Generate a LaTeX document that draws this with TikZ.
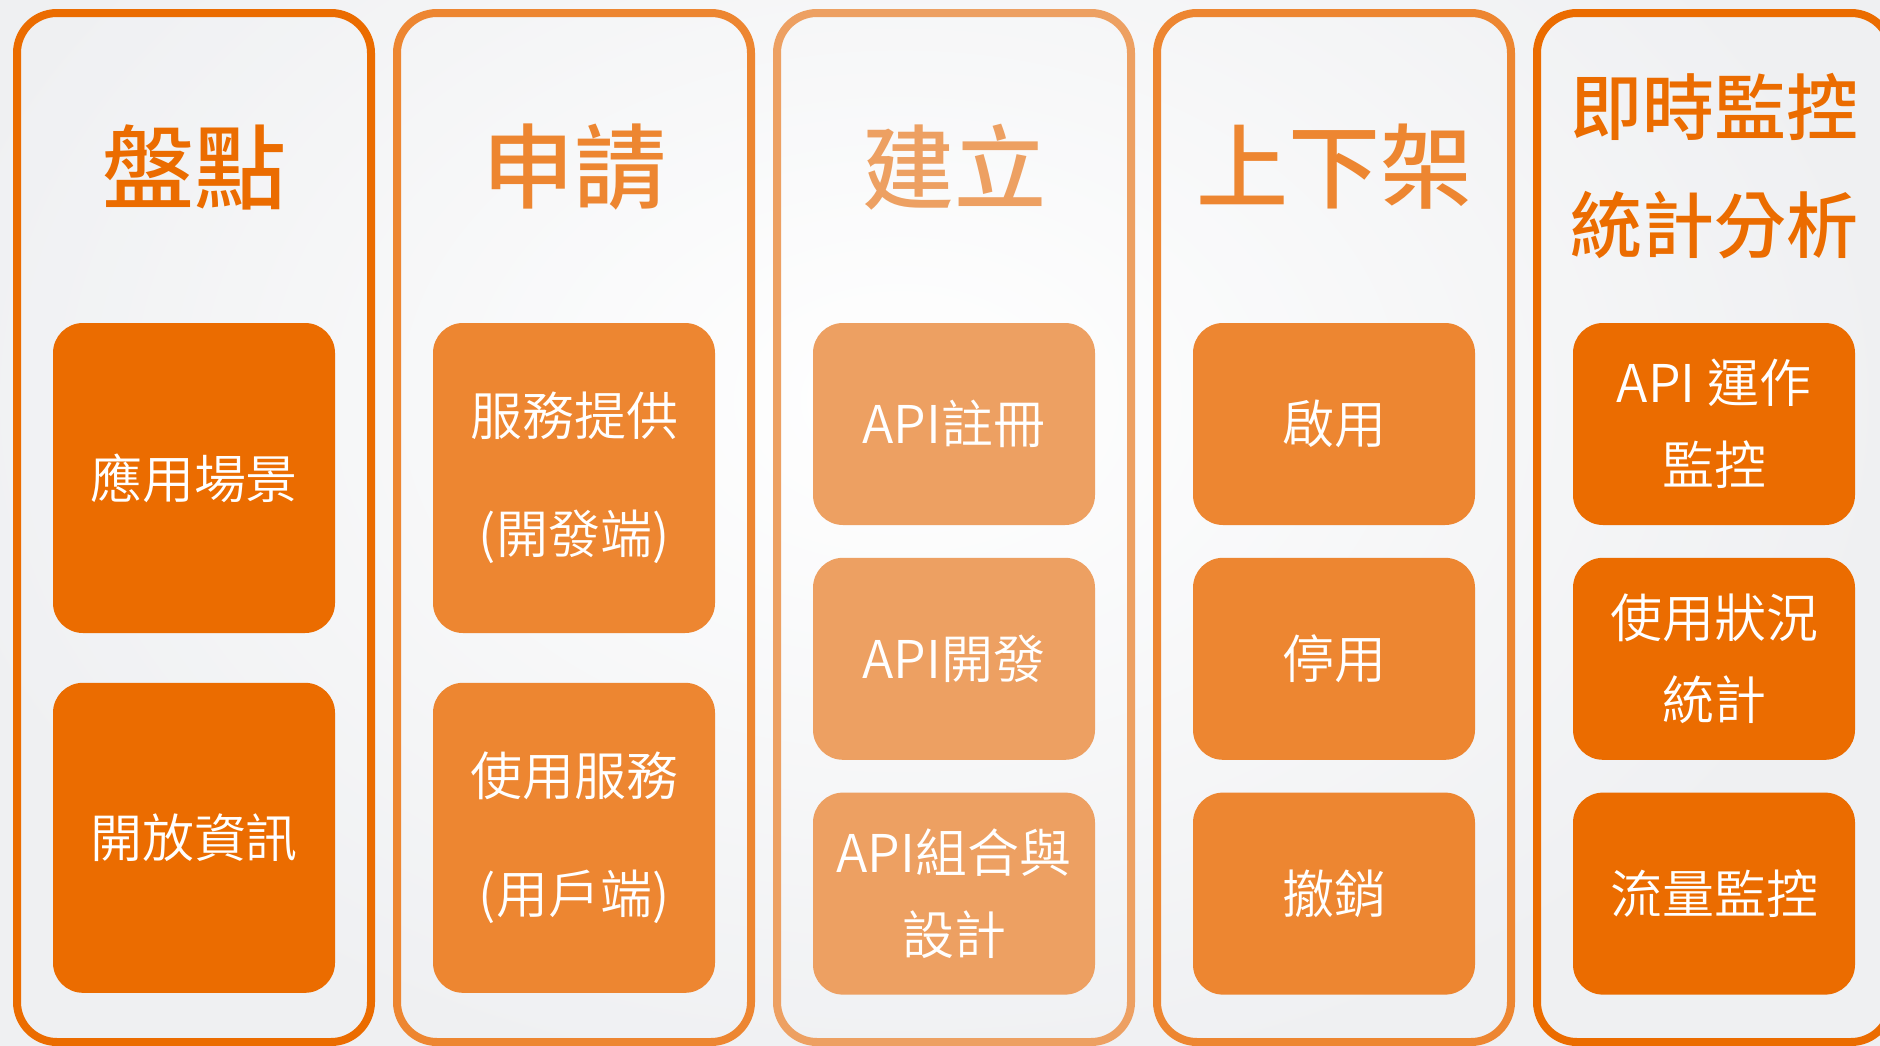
\documentclass[tikz,border=0pt]{standalone}
\usepackage{fontspec}
\newfontfamily\cjk{Noto Sans CJK TC DemiLight}
\newfontfamily\cjkhead{Noto Sans CJK TC Medium}
\usetikzlibrary{positioning}
\definecolor{deeporange}{HTML}{EB6C00}
\definecolor{midorange}{HTML}{ED8631}
\definecolor{paleorange}{HTML}{EDA062}
\definecolor{bggray}{HTML}{EFF0F2}

\tikzset{
  lane/.style={draw=#1, line width=4pt, rounded corners=20pt,
    minimum width=177pt, minimum height=514.5pt, inner sep=0pt},
  stage/.style={text=#1, font=\cjkhead\fontsize{46}{50}\selectfont, align=center},
  task/.style={fill=#1, text=white, rounded corners=15pt, minimum width=141pt,
    inner sep=0pt, align=center, font=\cjk\fontsize{26}{59}\selectfont},
  tall/.style={minimum height=155pt},
  short/.style={minimum height=101pt, font=\cjk\fontsize{26}{41}\selectfont},
}

\begin{document}
\begin{tikzpicture}[x=0.5pt, y=-0.5pt]
  \useasboundingbox (0,0) rectangle (1880,1045);
  \clip (0,0) rectangle (1880,1045);
  \fill[bggray] (0,0) rectangle (1880,1045);
  \shade[inner color=white, outer color=bggray] (-100,-300) rectangle (1900,1100);

  % lanes
  \node[lane=deeporange] (lane1) at (194,527.5) {};
  \node[lane=midorange]  (lane2) at (574,527.5) {};
  \node[lane=paleorange] (lane3) at (954,527.5) {};
  \node[lane=midorange]  (lane4) at (1334,527.5) {};
  \node[lane=deeporange] (lane5) at (1714,527.5) {};

  % titles
  \node[stage=deeporange] (inventory) at (194,167) {盤點};
  \node[stage=midorange]  (apply)     at (574,167) {申請};
  \node[stage=paleorange] (build)     at (954,167) {建立};
  \node[stage=midorange]  (shelf)     at (1334,167) {上下架};
  \node[stage=deeporange, font=\cjkhead\fontsize{36}{59}\selectfont]
    (monitor) at (1714,166) {即時監控\\統計分析};

  % 盤點
  \node[task=deeporange, tall] (scene) at (194,478) {應用場景};
  \node[task=deeporange, tall, below=24.5pt of scene] (opendata) {開放資訊};

  % 申請
  \node[task=midorange, tall] (provider) at (574,478) {服務提供\\(開發端)};
  \node[task=midorange, tall, below=24.5pt of provider] (consumer) {使用服務\\(用戶端)};

  % 建立
  \node[task=paleorange, short] (register) at (954,424) {API註冊};
  \node[task=paleorange, short, below=16pt of register] (develop) {API開發};
  \node[task=paleorange, short, below=16pt of develop] (compose) {API組合與\\設計};

  % 上下架
  \node[task=midorange, short] (enable) at (1334,424) {啟用};
  \node[task=midorange, short, below=16pt of enable] (disable) {停用};
  \node[task=midorange, short, below=16pt of disable] (revoke) {撤銷};

  % 即時監控
  \node[task=deeporange, short] (runwatch) at (1714,424) {API 運作\\監控};
  \node[task=deeporange, short, below=16pt of runwatch] (usage) {使用狀況\\統計};
  \node[task=deeporange, short, below=16pt of usage] (traffic) {流量監控};
\end{tikzpicture}
\end{document}
